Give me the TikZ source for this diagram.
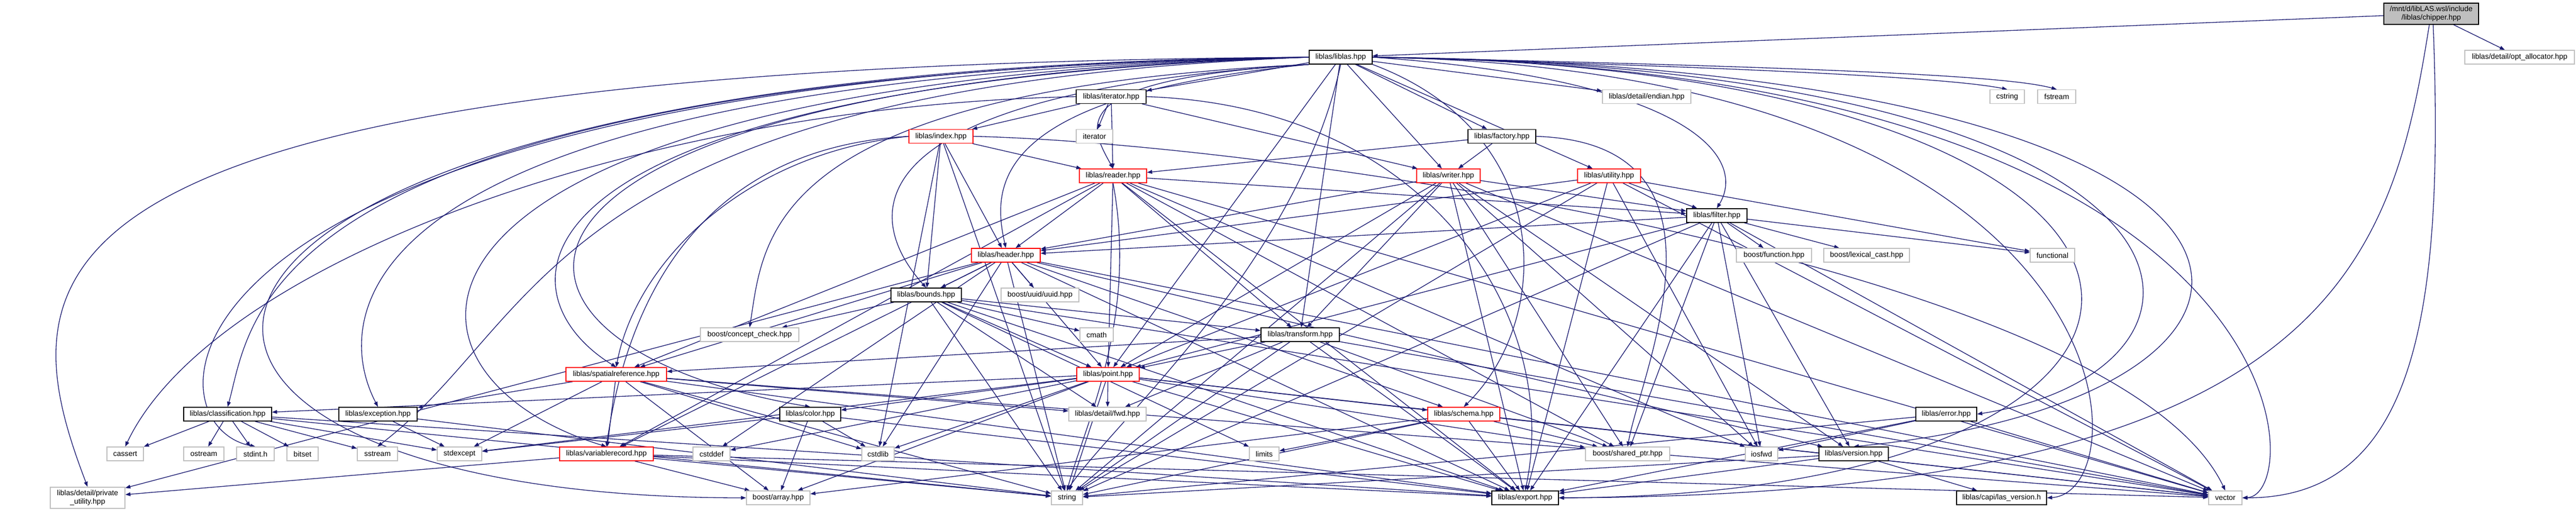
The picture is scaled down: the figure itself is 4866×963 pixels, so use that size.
\documentclass[tikz,border=0pt]{standalone}
\usepackage{fontspec}
\setmainfont{Liberation Sans}
\usetikzlibrary{arrows.meta}
\definecolor{edgeblue}{HTML}{191970}
\definecolor{extgrey}{HTML}{BFBFBF}
\pgfdeclarelayer{edges}
\pgfsetlayers{edges,main}
\begin{document}
\begin{tikzpicture}[x=0.02cm, y=-0.02cm,
    file/.style={draw=black, fill=white, line width=0.8pt, inner sep=1pt,
        minimum height=0.52cm, align=center, font=\fontsize{8}{9.5}\selectfont},
    ext/.style={file, draw=extgrey},
    trunc/.style={file, draw=red},
    root/.style={file, fill=extgrey, minimum height=0.8cm},
    dep/.style={draw=edgeblue, line width=0.75pt, -{Triangle[length=5.5pt,width=4pt]}}]
    \useasboundingbox (0,0) rectangle (4866,963);

    % Nodes
    \node[root, minimum width=179*0.02cm] (chipper) at (4592.5,26) {/mnt/d/libLAS.wsl/include\\/liblas/chipper.hpp};
    \node[file, minimum width=119*0.02cm] (liblas) at (2532.5,108) {liblas/liblas.hpp};
    \node[ext, minimum width=207*0.02cm] (opt) at (4759.5,108) {liblas/detail/opt\_allocator.hpp};
    \node[file, minimum width=132*0.02cm] (iteratorhpp) at (2099,182.5) {liblas/iterator.hpp};
    \node[ext, minimum width=167*0.02cm] (endian) at (3110.5,182.5) {liblas/detail/endian.hpp};
    \node[ext, minimum width=65*0.02cm] (cstring) at (3791.5,182.5) {cstring};
    \node[ext, minimum width=72*0.02cm] (fstream) at (3885,182.5) {fstream};
    \node[trunc, minimum width=121*0.02cm] (index) at (1777.5,257.5) {liblas/index.hpp};
    \node[ext, minimum width=69*0.02cm] (iterator) at (2067.5,257.5) {iterator};
    \node[file, minimum width=128*0.02cm] (factory) at (2837,257.5) {liblas/factory.hpp};
    \node[trunc, minimum width=127*0.02cm] (reader) at (2102.5,332) {liblas/reader.hpp};
    \node[trunc, minimum width=120*0.02cm] (writer) at (2736,332) {liblas/writer.hpp};
    \node[trunc, minimum width=119*0.02cm] (utility) at (3039.5,332) {liblas/utility.hpp};
    \node[file, minimum width=114*0.02cm] (filter) at (3243,407) {liblas/filter.hpp};
    \node[trunc, minimum width=130*0.02cm] (header) at (1900,482) {liblas/header.hpp};
    \node[ext, minimum width=142*0.02cm] (function) at (3351,482) {boost/function.hpp};
    \node[ext, minimum width=162*0.02cm] (lexical) at (3526,482) {boost/lexical\_cast.hpp};
    \node[ext, minimum width=84*0.02cm] (functional) at (3877,482) {functional};
    \node[file, minimum width=133*0.02cm] (bounds) at (1749.5,557) {liblas/bounds.hpp};
    \node[ext, minimum width=147*0.02cm] (uuid) at (1964.5,557) {boost/uuid/uuid.hpp};
    \node[ext, minimum width=186*0.02cm] (concept) at (1416,632) {boost/concept\_check.hpp};
    \node[ext, minimum width=63*0.02cm] (cmath) at (2071.5,632) {cmath};
    \node[file, minimum width=148*0.02cm] (transform) at (2456,632) {liblas/transform.hpp};
    \node[trunc, minimum width=190*0.02cm] (spatialref) at (1164,707) {liblas/spatialreference.hpp};
    \node[trunc, minimum width=118*0.02cm] (point) at (2093,707) {liblas/point.hpp};
    \node[file, minimum width=166*0.02cm] (classification) at (430,782) {liblas/classification.hpp};
    \node[file, minimum width=148*0.02cm] (exception) at (714,782) {liblas/exception.hpp};
    \node[file, minimum width=115*0.02cm] (color) at (1530.5,782) {liblas/color.hpp};
    \node[ext, minimum width=146*0.02cm] (fwd) at (2092,782) {liblas/detail/fwd.hpp};
    \node[trunc, minimum width=136*0.02cm] (schema) at (2765,782) {liblas/schema.hpp};
    \node[file, minimum width=115*0.02cm] (error) at (3676.5,782) {liblas/error.hpp};
    \node[ext, minimum width=69*0.02cm] (cassert) at (236.5,857) {cassert};
    \node[ext, minimum width=76*0.02cm] (ostream) at (385,857) {ostream};
    \node[ext, minimum width=71*0.02cm] (stdint) at (482.5,857) {stdint.h};
    \node[ext, minimum width=59*0.02cm] (bitset) at (571.5,857) {bitset};
    \node[ext, minimum width=76*0.02cm] (sstream) at (713,857) {sstream};
    \node[ext, minimum width=84*0.02cm] (stdexcept) at (868,857) {stdexcept};
    \node[trunc, minimum width=177*0.02cm] (variablerecord) at (1145.5,857) {liblas/variablerecord.hpp};
    \node[ext, minimum width=70*0.02cm] (cstddef) at (1344,857) {cstddef};
    \node[ext, minimum width=61*0.02cm] (cstdlib) at (1658.5,857) {cstdlib};
    \node[ext, minimum width=56*0.02cm] (limits) at (2388,857) {limits};
    \node[ext, minimum width=159*0.02cm] (sharedptr) at (3074.5,857) {boost/shared\_ptr.hpp};
    \node[ext, minimum width=61*0.02cm] (iosfwd) at (3327.5,857) {iosfwd};
    \node[file, minimum width=131*0.02cm] (version) at (3501.5,857) {liblas/version.hpp};
    \node[ext, minimum width=141*0.02cm, minimum height=0.8cm] (privutil) at (165.5,940) {liblas/detail/private\\\_utility.hpp};
    \node[ext, minimum width=120*0.02cm] (boostarray) at (1470,940) {boost/array.hpp};
    \node[ext, minimum width=59*0.02cm] (string) at (2015.5,940) {string};
    \node[file, minimum width=126*0.02cm] (export) at (2881,940) {liblas/export.hpp};
    \node[file, minimum width=170*0.02cm] (lasversion) at (3781,940) {liblas/capi/las\_version.h};
    \node[ext, minimum width=63*0.02cm] (vector) at (4203.5,940) {vector};

    % Edges
    \begin{pgfonlayer}{edges}
    \draw[dep] (chipper) -- (liblas);
    \draw[dep] (chipper) -- (opt);
    \draw[dep] (chipper.260) .. controls (4517,500) and (4400,935) .. (export.east);
    \draw[dep] (chipper.280) .. controls (4618,600) and (4560,940) .. (vector.east);

    \draw[dep] (liblas.west) .. controls (10,125) and (5,500) .. (privutil.north);
    \draw[dep] (liblas.west) .. controls (55,128) and (55,940) .. (boostarray.west);
    \draw[dep] (liblas.west) .. controls (259,135) and (259,800) .. (stdint.north);
    \draw[dep] (liblas.west) .. controls (477,140) and (477,600) .. (classification.north);
    \draw[dep] (liblas.west) .. controls (626,145) and (626,600) .. (exception.north);
    \draw[dep] (liblas.west) .. controls (677,150) and (677,700) .. (variablerecord.north);
    \draw[dep] (liblas.west) .. controls (829,155) and (829,650) .. (color.north);
    \draw[dep] (liblas.west) .. controls (931,160) and (931,550) .. (spatialref.north);
    \draw[dep] (liblas.west) .. controls (1032,165) and (1032,600) .. (sstream.north);
    \draw[dep] (liblas.south west) .. controls (1443,170) and (1443,450) .. (concept.north);
    \draw[dep] (liblas.south west) .. controls (1621,175) and (1621,400) .. (bounds.north);
    \draw[dep] (liblas.south west) .. controls (1873,180) and (1873,350) .. (header.north);
    \draw[dep] (liblas.south west) .. controls (2000,150) and (2060,240) .. (reader.north);
    \draw[dep] (liblas) -- (iteratorhpp);
    \draw[dep] (liblas) -- (endian);
    \draw[dep] (liblas.east) .. controls (3400,130) and (3700,150) .. (cstring.north);
    \draw[dep] (liblas.east) .. controls (3500,128) and (3800,145) .. (fstream.north);
    \draw[dep] (liblas) -- (factory);
    \draw[dep] (liblas) -- (writer);
    \draw[dep] (liblas) -- (utility);
    \draw[dep] (liblas.east) .. controls (3200,150) and (3300,300) .. (filter.north);
    \draw[dep] (liblas) -- (transform);
    \draw[dep] (liblas) -- (point);
    \draw[dep] (liblas.south east) .. controls (2936,250) and (2936,600) .. (schema.north);
    \draw[dep] (liblas.east) .. controls (4262,125) and (4262,700) .. (error.east);
    \draw[dep] (liblas.east) .. controls (4313,125) and (4313,935) .. (export.east);
    \draw[dep] (liblas.east) .. controls (4363,125) and (4363,935) .. (vector.east);
    \draw[dep] (liblas.east) .. controls (4465,125) and (4465,750) .. (version.north);
    \draw[dep] (liblas.east) .. controls (4040,130) and (4050,930) .. (lasversion.east);
    \draw[dep] (liblas.south) .. controls (2450,500) and (2100,800) .. (string.north);

    \draw[dep] (iteratorhpp) -- (index);
    \draw[dep] (iteratorhpp) -- (iterator);
    \draw[dep] (iteratorhpp) -- (reader);
    \draw[dep] (iteratorhpp) -- (writer);
    \draw[dep] (iteratorhpp.west) .. controls (1200,200) and (400,500) .. (cassert.north);
    \draw[dep] (iteratorhpp.east) .. controls (2700,200) and (2950,600) .. (export.north);

    \draw[dep] (index) -- (reader);
    \draw[dep] (index) -- (header);
    \draw[dep] (index) -- (bounds);
    \draw[dep] (index.west) .. controls (1300,280) and (1180,600) .. (variablerecord.north);
    \draw[dep] (index.west) .. controls (1400,290) and (1200,500) .. (spatialref.north);
    \draw[dep] (index) -- (cstdlib);
    \draw[dep] (index) -- (string);
    \draw[dep] (index.east) .. controls (2400,270) and (4000,500) .. (vector.north);

    \draw[dep] (factory) -- (reader);
    \draw[dep] (factory) -- (writer);
    \draw[dep] (factory.east) .. controls (3300,270) and (3100,700) .. (sharedptr.north);

    \draw[dep] (reader) -- (header);
    \draw[dep] (reader) -- (filter);
    \draw[dep] (reader) -- (transform);
    \draw[dep] (reader) -- (point);
    \draw[dep] (reader) -- (spatialref);
    \draw[dep] (reader) -- (variablerecord);
    \draw[dep] (reader) -- (export);
    \draw[dep] (reader) -- (iosfwd);
    \draw[dep] (reader) -- (sharedptr);
    \draw[dep] (reader) -- (vector);
    \draw[dep] (reader.south) .. controls (2150,600) and (2050,800) .. (string.north);

    \draw[dep] (writer) -- (header);
    \draw[dep] (writer) -- (point);
    \draw[dep] (writer) -- (filter);
    \draw[dep] (writer) -- (transform);
    \draw[dep] (writer) -- (export);
    \draw[dep] (writer) -- (iosfwd);
    \draw[dep] (writer) -- (sharedptr);
    \draw[dep] (writer) -- (vector);
    \draw[dep] (writer) -- (string);
    \draw[dep] (writer) -- (version);

    \draw[dep] (utility) -- (filter);
    \draw[dep] (utility) -- (header);
    \draw[dep] (utility) -- (point);
    \draw[dep] (utility) -- (functional);
    \draw[dep] (utility) -- (iosfwd);
    \draw[dep] (utility) -- (export);
    \draw[dep] (utility) -- (vector);
    \draw[dep] (utility) -- (string);

    \draw[dep] (filter) -- (header);
    \draw[dep] (filter) -- (point);
    \draw[dep] (filter) -- (function);
    \draw[dep] (filter) -- (lexical);
    \draw[dep] (filter) -- (functional);
    \draw[dep] (filter) -- (sharedptr);
    \draw[dep] (filter) -- (iosfwd);
    \draw[dep] (filter) -- (version);
    \draw[dep] (filter) -- (export);
    \draw[dep] (filter) -- (vector);
    \draw[dep] (filter) -- (string);

    \draw[dep] (header) -- (bounds);
    \draw[dep] (header) -- (uuid);
    \draw[dep] (header) -- (spatialref);
    \draw[dep] (header) -- (variablerecord);
    \draw[dep] (header) -- (schema);
    \draw[dep] (header) -- (point);
    \draw[dep] (header) -- (export);
    \draw[dep] (header) -- (cstddef);
    \draw[dep] (header) -- (cstdlib);
    \draw[dep] (header) -- (string);
    \draw[dep] (header) -- (vector);
    \draw[dep] (header) -- (privutil);
    \draw[dep] (header) -- (version);

    \draw[dep] (bounds) -- (concept);
    \draw[dep] (bounds) -- (cmath);
    \draw[dep] (bounds) -- (point);
    \draw[dep] (bounds) -- (transform);
    \draw[dep] (bounds) -- (fwd);
    \draw[dep] (bounds) -- (string);
    \draw[dep] (bounds) -- (vector);
    \draw[dep] (bounds) -- (export);
    \draw[dep] (bounds) -- (limits);

    \draw[dep] (transform) -- (point);
    \draw[dep] (transform) -- (spatialref);
    \draw[dep] (transform) -- (export);
    \draw[dep] (transform) -- (string);
    \draw[dep] (transform) -- (vector);
    \draw[dep] (transform) -- (sharedptr);
    \draw[dep] (transform) -- (fwd);

    \draw[dep] (spatialref) -- (exception);
    \draw[dep] (spatialref) -- (variablerecord);
    \draw[dep] (spatialref) -- (boostarray);
    \draw[dep] (spatialref) -- (cstdlib);
    \draw[dep] (spatialref) -- (stdexcept);
    \draw[dep] (spatialref) -- (string);
    \draw[dep] (spatialref) -- (export);
    \draw[dep] (spatialref) -- (vector);
    \draw[dep] (spatialref) -- (fwd);

    \draw[dep] (point) -- (classification);
    \draw[dep] (point) -- (color);
    \draw[dep] (point) -- (fwd);
    \draw[dep] (point) -- (schema);
    \draw[dep] (point) -- (export);
    \draw[dep] (point) -- (string);
    \draw[dep] (point) -- (vector);
    \draw[dep] (point) -- (boostarray);
    \draw[dep] (point) -- (cstdlib);
    \draw[dep] (point) -- (sharedptr);
    \draw[dep] (point) -- (cstddef);
    \draw[dep] (point) -- (stdexcept);

    \draw[dep] (classification) -- (cassert);
    \draw[dep] (classification) -- (ostream);
    \draw[dep] (classification) -- (stdint);
    \draw[dep] (classification) -- (bitset);
    \draw[dep] (classification) -- (sstream);
    \draw[dep] (classification) -- (stdexcept);
    \draw[dep] (classification) -- (export);
    \draw[dep] (classification) -- (string);

    \draw[dep] (exception) -- (stdexcept);
    \draw[dep] (exception) -- (string);

    \draw[dep] (color) -- (boostarray);
    \draw[dep] (color) -- (cstdlib);
    \draw[dep] (color) -- (export);
    \draw[dep] (color) -- (stdexcept);

    \draw[dep] (schema) -- (export);
    \draw[dep] (schema) -- (string);
    \draw[dep] (schema) -- (vector);
    \draw[dep] (schema) -- (limits);
    \draw[dep] (schema) -- (sharedptr);
    \draw[dep] (schema) -- (boostarray);

    \draw[dep] (error) -- (iosfwd);
    \draw[dep] (error) -- (export);
    \draw[dep] (error) -- (string);
    \draw[dep] (error) -- (vector);

    \draw[dep] (version) -- (export);
    \draw[dep] (version) -- (lasversion);
    \draw[dep] (version) -- (string);

    \draw[dep] (variablerecord) -- (privutil);
    \draw[dep] (variablerecord) -- (boostarray);
    \draw[dep] (variablerecord) -- (export);
    \draw[dep] (variablerecord) -- (string);
    \draw[dep] (variablerecord) -- (vector);
    \end{pgfonlayer}
\end{tikzpicture}
\end{document}
